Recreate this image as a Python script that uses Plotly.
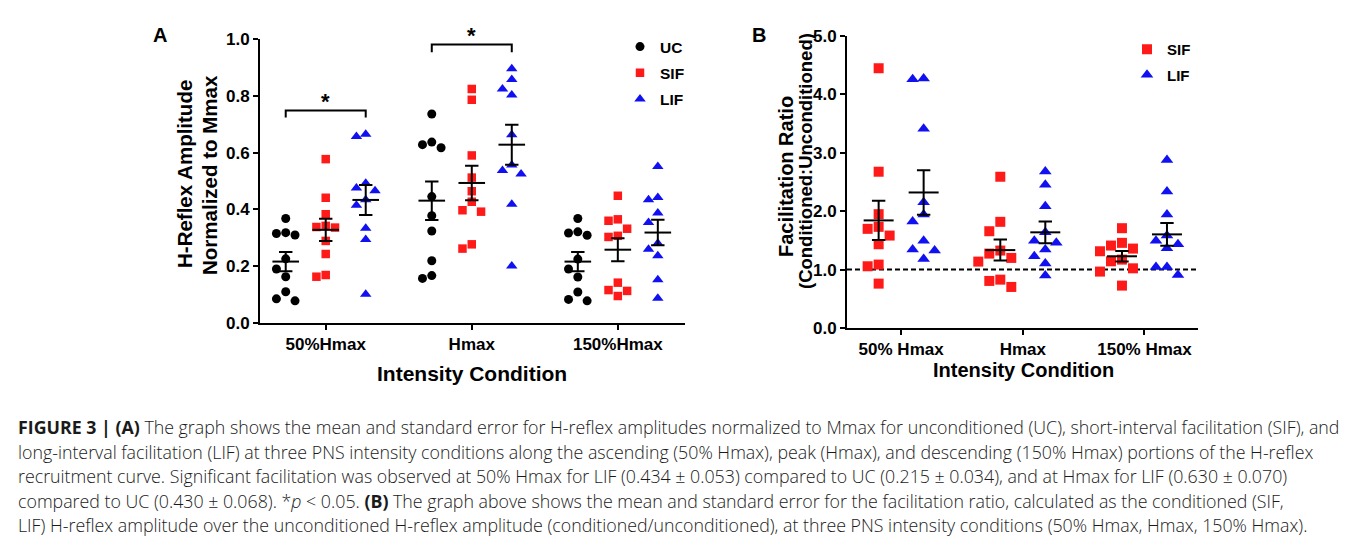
import numpy as np
import plotly.graph_objects as go

PAGE_W, PAGE_H = 1355, 548
BODY = 8                      # browser default body margin
W, H = PAGE_W - 2 * BODY, PAGE_H - 2 * BODY

# ---------------- data ----------------
conditions_a = ["50%Hmax", "Hmax", "150%Hmax"]
conditions_b = ["50% Hmax", "Hmax", "150% Hmax"]

# Panel A: H-reflex amplitude normalized to Mmax (one list per intensity condition)
uc_vals = [
    [0.368, 0.310, 0.315, 0.318, 0.226, 0.190, 0.163, 0.110, 0.078, 0.085],
    [0.736, 0.628, 0.617, 0.637, 0.445, 0.378, 0.324, 0.219, 0.157, 0.167],
    [0.368, 0.309, 0.317, 0.321, 0.225, 0.190, 0.162, 0.109, 0.078, 0.083],
]
sif_vals = [
    [0.577, 0.441, 0.383, 0.336, 0.342, 0.338, 0.289, 0.243, 0.163, 0.169],
    [0.824, 0.786, 0.590, 0.512, 0.464, 0.427, 0.392, 0.397, 0.262, 0.277],
    [0.448, 0.360, 0.365, 0.332, 0.303, 0.307, 0.142, 0.113, 0.116, 0.095],
]
lif_vals = [
    [0.657, 0.665, 0.475, 0.466, 0.492, 0.434, 0.415, 0.334, 0.294, 0.101],
    [0.895, 0.857, 0.824, 0.803, 0.663, 0.556, 0.525, 0.537, 0.418, 0.201],
    [0.551, 0.442, 0.434, 0.387, 0.354, 0.281, 0.260, 0.237, 0.152, 0.087],
]

# Panel B: facilitation ratio (conditioned : unconditioned)
ratio_sif = [
    [4.448, 2.676, 1.949, 1.698, 1.732, 1.583, 1.434, 1.057, 1.086, 0.760],
    [2.590, 1.818, 1.657, 1.274, 1.326, 1.200, 1.137, 0.828, 0.806, 0.703],
    [1.709, 1.458, 1.412, 1.360, 1.314, 1.142, 1.171, 1.022, 0.966, 0.726],
]
ratio_lif = [
    [4.259, 4.271, 3.413, 2.154, 1.823, 1.943, 1.492, 1.343, 1.326, 1.183],
    [2.681, 2.453, 2.086, 1.640, 1.492, 1.458, 1.343, 1.228, 1.103, 0.897],
    [2.875, 2.338, 1.943, 1.492, 1.583, 1.434, 1.365, 1.046, 1.046, 0.909],
]

yticks_a = [0.0, 0.2, 0.4, 0.6, 0.8, 1.0]
yticks_b = [0.0, 1.0, 2.0, 3.0, 4.0, 5.0]

# ---------------- layout constants (page pixels) ----------------
A_X, A_Y = (260, 685), (39, 323)
B_X, B_Y = (847, 1198), (36, 328)
A_XR, A_YR = (-0.45, 2.46), (0, 1.0)
B_XR, B_YR = (-0.445, 2.44), (0, 5.0)

RED = "#FF1A1A"
BLUE = "#1010F0"
BLACK = "#000000"
FONT = "Liberation Sans, Arial, Helvetica, sans-serif"


def px(x):
    return (x - BODY) / W


def py(y):
    return 1 - (y - BODY) / H


def scale(dom, rng):
    return (dom[1] - dom[0]) / (rng[1] - rng[0])


ax_x, ax_y = scale(A_X, A_XR), scale(A_Y, A_YR)
bx_x, bx_y = scale(B_X, B_XR), scale(B_Y, B_YR)


def swarm(values, ypx, xpx, step_px, h_px):
    """Column-based beeswarm offsets (x data units) computed from the values."""
    order = sorted(range(len(values)), key=lambda i: -values[i])
    placed, offs = [], [0.0] * len(values)
    for i in order:
        yv = values[i] * ypx
        for c in [0, -1, 1, -2, 2, -3, 3]:
            if all(not (pc == c and abs(pyv - yv) < h_px) for pc, pyv in placed):
                break
        placed.append((c, yv))
        offs[i] = c * step_px / xpx
    return offs


fig = go.Figure()


def add_group(vals, offset, name, color, symbol, size, xa, ya, xpx, ypx, step, h,
              legend, mean_hw, cap_px):
    xs, ys = [], []
    for ci, v in enumerate(vals):
        o = swarm(v, ypx, xpx, step, h)
        xs += [ci + offset + d for d in o]
        ys += list(v)
    fig.add_trace(go.Scatter(
        x=xs, y=ys, mode="markers", name=name, xaxis=xa, yaxis=ya,
        legend=legend, legendgroup=legend + name,
        marker=dict(color=color, symbol=symbol, size=size, line=dict(width=0)),
        cliponaxis=False))
    means = [float(np.mean(v)) for v in vals]
    sems = [float(np.std(v, ddof=1) / np.sqrt(len(v))) for v in vals]
    cx = [ci + offset for ci in range(len(vals))]
    lx, ly = [], []
    for c, m in zip(cx, means):
        lx += [c - mean_hw, c + mean_hw, None]
        ly += [m, m, None]
    fig.add_trace(go.Scatter(x=lx, y=ly, mode="lines", xaxis=xa, yaxis=ya,
                             line=dict(color=BLACK, width=2), showlegend=False,
                             hoverinfo="skip"))
    fig.add_trace(go.Scatter(x=cx, y=means, mode="markers", xaxis=xa, yaxis=ya,
                             marker=dict(color="rgba(0,0,0,0)", size=1),
                             error_y=dict(type="data", array=sems, width=cap_px,
                                          thickness=2, color=BLACK),
                             showlegend=False, hoverinfo="skip"))


OFF_A = 40 / ax_x
OFF_B = 22.5 / bx_x
for vals, off, name, col, sym, sz in [
    (uc_vals, -OFF_A, "UC", BLACK, "circle", 9),
    (sif_vals, 0.0, "SIF", RED, "square", 8.5),
    (lif_vals, OFF_A, "LIF", BLUE, "triangle-up", 10),
]:
    add_group(vals, off, name, col, sym, sz, "x", "y", ax_x, ax_y, 9.3, 10.5,
              "legend", 13.3 / ax_x, 6.7)

for vals, off, name, col, sym, sz in [
    (ratio_sif, -OFF_B, "SIF", RED, "square", 10),
    (ratio_lif, OFF_B, "LIF", BLUE, "triangle-up", 11),
]:
    add_group(vals, off, name, col, sym, sz, "x2", "y2", bx_x, bx_y, 11, 12,
              "legend2", 15 / bx_x, 6.7)

axis_common = dict(showline=True, linewidth=2, linecolor=BLACK, ticks="outside",
                   ticklen=5, tickwidth=2, tickcolor=BLACK, showgrid=False,
                   zeroline=False, fixedrange=True, automargin=False,
                   tickfont=dict(family=FONT, size=17, color=BLACK, weight="bold"))

fig.update_layout(
    template="none",
    width=W, height=H, margin=dict(l=0, r=0, t=0, b=0, pad=0, autoexpand=False),
    paper_bgcolor="white", plot_bgcolor="rgba(0,0,0,0)",
    xaxis=dict(domain=[px(A_X[0]), px(A_X[1])], range=list(A_XR), anchor="y",
               tickvals=[0, 1, 2], ticktext=conditions_a, **axis_common),
    yaxis=dict(domain=[py(A_Y[1]), py(A_Y[0])], range=list(A_YR), anchor="x",
               tickvals=yticks_a, tickformat=".1f", **axis_common),
    xaxis2=dict(domain=[px(B_X[0]), px(B_X[1])], range=list(B_XR), anchor="y2",
                tickvals=[0, 1, 2], ticktext=conditions_b, **axis_common),
    yaxis2=dict(domain=[py(B_Y[1]), py(B_Y[0])], range=list(B_YR), anchor="x2",
                tickvals=yticks_b, tickformat=".1f", **axis_common),
    legend=dict(x=px(620), y=py(30), xanchor="left", yanchor="top",
                bgcolor="rgba(0,0,0,0)", tracegroupgap=3,
                font=dict(family=FONT, size=15.5, color=BLACK, weight="bold")),
    legend2=dict(x=px(1127), y=py(33), xanchor="left", yanchor="top",
                 bgcolor="rgba(0,0,0,0)", tracegroupgap=3,
                 font=dict(family=FONT, size=15, color=BLACK, weight="bold")),
)

# significance brackets (panel A)
for ci, ytop, yleg in [(0, 0.748, 0.724), (1, 0.981, 0.953)]:
    x0, x1 = ci - OFF_A, ci + OFF_A
    fig.add_shape(type="path", xref="x", yref="y",
                  path=f"M {x0},{yleg} L {x0},{ytop} L {x1},{ytop} L {x1},{yleg}",
                  line=dict(color=BLACK, width=2))

# reference line at ratio 1.0 (panel B)
fig.add_shape(type="line", xref="x2 domain", yref="y2", x0=0, x1=1, y0=1, y1=1,
              line=dict(color=BLACK, width=2, dash="5px,3px"), layer="below")


def ann(text, x, y, size, angle=0, xanchor="center", bold=True, color=BLACK,
        family=FONT, weight=None):
    f = dict(family=family, size=size, color=color)
    if weight is not None:
        f["weight"] = weight
    elif bold:
        f["weight"] = "bold"
    fig.add_annotation(text=text, x=px(x), y=py(y), xref="paper", yref="paper",
                       showarrow=False, textangle=angle, xanchor=xanchor,
                       yanchor="middle", font=f, align="left")


# asterisks
ann("*", 325, 102, 22)
ann("*", 471, 36, 22)

# panel letters
ann("A", 160, 35, 20)
ann("B", 759, 35, 20)

# axis titles
ann("Intensity Condition", 472, 373, 21)
ann("Intensity Condition", 1023, 370, 20)
ann("H-Reflex Amplitude", 185, 174, 20.5, angle=-90)
ann("Normalized to Mmax", 209, 175, 20.5, angle=-90)
ann("Facilitation Ratio", 786, 177, 20, angle=-90)
ann("(Conditioned:Unconditioned)", 805, 161, 18.5, angle=-90)

# caption
caption_lines = [
    "<b>FIGURE 3 | (A)</b> The graph shows the mean and standard error for H-reflex amplitudes normalized to Mmax for unconditioned (UC), short-interval facilitation (SIF), and",
    "long-interval facilitation (LIF) at three PNS intensity conditions along the ascending (50% Hmax), peak (Hmax), and descending (150% Hmax) portions of the H-reflex",
    "recruitment curve. Significant facilitation was observed at 50% Hmax for LIF (0.434 ± 0.053) compared to UC (0.215 ± 0.034), and at Hmax for LIF (0.630 ± 0.070)",
    "compared to UC (0.430 ± 0.068). *<i>p</i> &lt; 0.05. <b>(B)</b> The graph above shows the mean and standard error for the facilitation ratio, calculated as the conditioned (SIF,",
    "LIF) H-reflex amplitude over the unconditioned H-reflex amplitude (conditioned/unconditioned), at three PNS intensity conditions (50% Hmax, Hmax, 150% Hmax).",
]
for i, line in enumerate(caption_lines):
    ann(line, 16, 427 + i * 24.6, 17.8, xanchor="left", bold=False,
        color="#1a1a1a", family="Open Sans, Liberation Sans, sans-serif", weight=300)

fig.write_html("out.html")
